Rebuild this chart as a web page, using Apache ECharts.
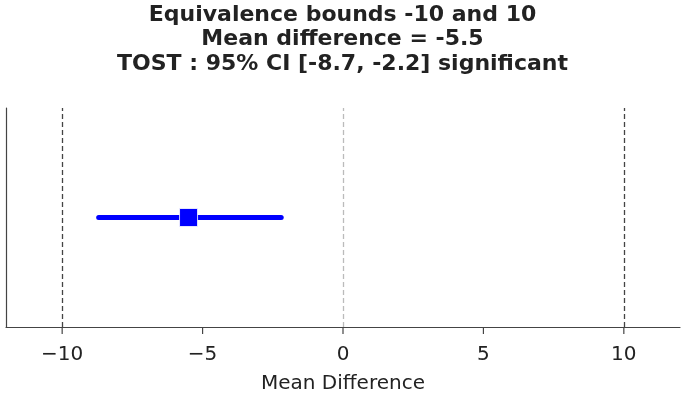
<!DOCTYPE html>
<html>
<head>
<meta charset="utf-8">
<script src="https://cdn.jsdelivr.net/npm/echarts@6/dist/echarts.min.js"></script>
<style>
  html, body { margin: 0; padding: 0; background: #fff; }
  #main { width: 685px; height: 394px; }
</style>
</head>
<body>
<div id="main"></div>
<script>
const bounds = [-10, 10];
const meanDiff = -5.5;
const ciInterval = [-8.7, -2.2];
const xRange = [-12, 12];
const yRange = [0, 2];
const xTicks = [-10, -5, 0, 5, 10];
const titleLines = [
  "Equivalence bounds -10 and 10",
  "Mean difference = -5.5",
  "TOST : 95% CI [-8.7, -2.2] significant",
];

const chart = echarts.init(document.getElementById("main"));
const font = "DejaVu Sans";
const axisColor = "#444";

const option = {
  animation: false,
  title: {
    text: titleLines.join("\n"),
    left: "center",
    top: -2,
    textStyle: {
      fontFamily: font,
      fontSize: 22,
      fontWeight: "bold",
      color: "#222",
      lineHeight: 24.5,
    },
  },
  grid: { left: 6, right: 5, top: 108, bottom: 67, outerBoundsMode: "none" },
  xAxis: {
    type: "value",
    min: xRange[0],
    max: xRange[1],
    name: "Mean Difference",
    nameLocation: "middle",
    nameGap: 47,
    nameTextStyle: { fontFamily: font, fontSize: 20, color: "#222" },
    axisLine: { show: true, onZero: false, lineStyle: { color: axisColor, width: 1.2 } },
    axisTick: { show: false },
    axisLabel: {
      fontFamily: font,
      fontSize: 20,
      color: "#222",
      margin: 18,
      customValues: xTicks,
      formatter: (v) => (v < 0 ? "\u2212" + Math.abs(v) : String(v)),
    },
    splitLine: { show: false },
  },
  yAxis: {
    type: "value",
    min: yRange[0],
    max: yRange[1],
    axisLine: { show: true, onZero: false, lineStyle: { color: axisColor, width: 1.2 } },
    axisTick: { show: false },
    axisLabel: { show: false },
    splitLine: { show: false },
  },
  series: [
    {
      type: "line",
      data: [
        [ciInterval[0], 1],
        [ciInterval[1], 1],
      ],
      symbol: "none",
      lineStyle: { color: "#0000ff", width: 5, cap: "round" },
      z: 3,
      markLine: {
        silent: true,
        symbol: "none",
        label: { show: false },
        data: [
          { xAxis: bounds[0], lineStyle: { color: "#444", type: [5, 3], width: 1.3 } },
          { xAxis: bounds[1], lineStyle: { color: "#444", type: [5, 3], width: 1.3 } },
          { xAxis: 0, lineStyle: { color: "#bbb", type: [5, 3], width: 1.3 } },
        ],
      },
    },
    {
      type: "scatter",
      data: [[meanDiff, 1]],
      symbol: "rect",
      symbolSize: 18,
      itemStyle: { color: "#0000ff", borderColor: "#fff", borderWidth: 0.8, opacity: 1 },
      z: 4,
    },
    {
      // tick marks under the x axis, drawn on their own layer
      type: "custom",
      silent: true,
      clip: false,
      zlevel: 1,
      dimensions: ["x", "y"],
      encode: { x: 0, y: 1 },
      data: xTicks.map((v) => [v, yRange[0]]),
      renderItem: (params, api) => {
        const p = api.coord([api.value(0), api.value(1)]);
        return {
          type: "rect",
          shape: { x: p[0] - 0.6, y: p[1], width: 1.2, height: 7 },
          style: { fill: axisColor },
        };
      },
    },
  ],
};

chart.setOption(option);
</script>
</body>
</html>
